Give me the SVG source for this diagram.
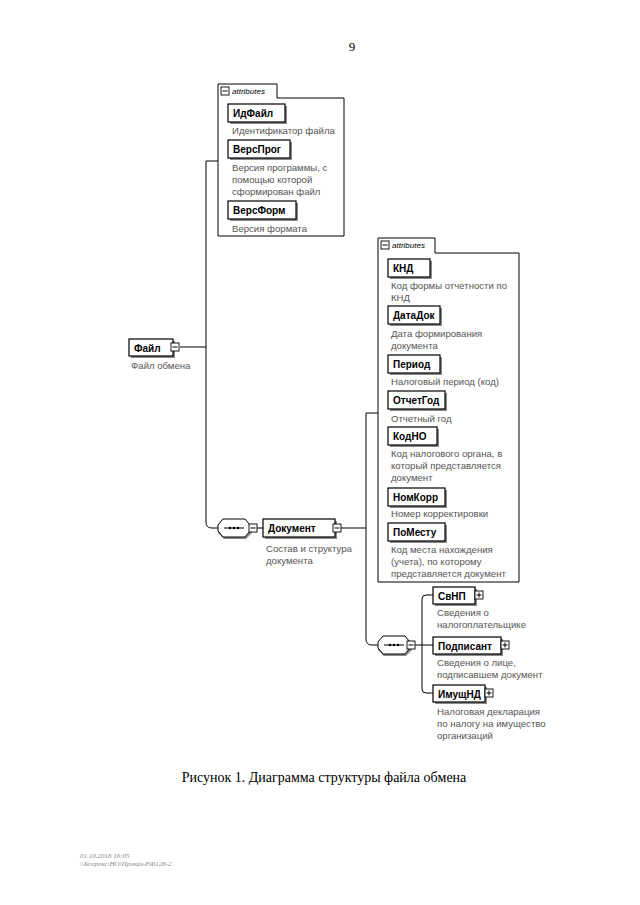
<svg xmlns="http://www.w3.org/2000/svg" width="640" height="905" viewBox="0 0 640 905">
<defs>
<style>
.bg{fill:#fff}
.ln{fill:none;stroke:#000;stroke-width:1}
.box{fill:#fff;stroke:#000;stroke-width:1.2}
.sh{fill:#8a8a8a}
.nm{font-family:"Liberation Sans",Arial,sans-serif;font-size:10px;font-weight:bold;fill:#000}
.ds{font-family:"Liberation Sans",Arial,sans-serif;font-size:9.6px;fill:#555}
.tab{font-family:"Liberation Sans",Arial,sans-serif;font-size:8px;font-style:italic;fill:#000}
.btn{fill:#fff;stroke:#000;stroke-width:0.9}
</style>
<g id="minus"><rect class="btn" x="-4" y="-4" width="8" height="8"/><path class="ln" d="M-2.5,0H2.5"/></g>
<g id="plus"><rect class="btn" x="-4" y="-4" width="8" height="8"/><path class="ln" d="M-2.5,0H2.5M0,-2.5V2.5"/></g>
<g id="seq"><path class="sh" d="M6,2H28L34,8V14L28,20H6L0,14V8Z"/><path fill="#fff" stroke="#000" stroke-width="1" d="M5,0H27L32,6V12L27,18H5L0,12V6Z"/><path class="ln" d="M6,9H26"/><circle cx="12" cy="9" r="1.2"/><circle cx="16" cy="9" r="1.2"/><circle cx="20" cy="9" r="1.2"/></g>
</defs>
<rect class="bg" width="640" height="905"/>
<text x="352" y="51" font-family="'Liberation Serif','Times New Roman',serif" font-size="13" text-anchor="middle" fill="#000">9</text>

<g id="connectors">
<path class="ln" d="M218,161H206V522Q206,528,212,528H218"/>
<path class="ln" d="M180,347H206"/>
<path class="ln" d="M256,528H263"/>
<path class="ln" d="M340,528H366"/>
<path class="ln" d="M378,413H366V639Q366,645,372,645H378"/>
<path class="ln" d="M414,645H422"/>
<path class="ln" d="M433,595H426Q422,595,422,599V689Q422,693,426,693H433"/>
<path class="ln" d="M422,645H433"/>
</g>

<g id="attrs1">
<path fill="#fff" stroke="#000" stroke-width="1" d="M218,236V84H277V98H344V236Z"/>
<rect class="btn" x="221" y="87" width="8" height="8"/><path class="ln" d="M222.5,91H227.5"/>
<text class="tab" x="232" y="94">attributes</text>
</g>
<g id="ИдФайл"><rect class="sh" x="230" y="106" width="57" height="18"/><rect class="box" x="228" y="104" width="57" height="18"/><text class="nm" x="233" y="117">ИдФайл</text><text class="ds" x="232" y="134">Идентификатор файла</text></g>
<g id="ВерсПрог"><rect class="sh" x="230" y="142" width="62" height="18"/><rect class="box" x="228" y="140" width="62" height="18"/><text class="nm" x="233" y="153">ВерсПрог</text><text class="ds" x="232" y="171">Версия программы, с</text><text class="ds" x="232" y="183">помощью которой</text><text class="ds" x="232" y="195">сформирован файл</text></g>
<g id="ВерсФорм"><rect class="sh" x="230" y="203" width="68" height="18"/><rect class="box" x="228" y="201" width="68" height="18"/><text class="nm" x="233" y="214">ВерсФорм</text><text class="ds" x="232" y="232">Версия формата</text></g>

<g id="Файл"><rect class="sh" x="131" y="341" width="44" height="17"/><rect class="box" x="129" y="339" width="44" height="17"/><text class="nm" x="134" y="352">Файл</text><use href="#minus" x="175" y="347"/><text class="ds" x="131" y="369">Файл обмена</text></g>

<g id="seq1"><use href="#seq" x="218" y="519"/><use href="#minus" x="253" y="528"/></g>

<g id="Документ"><rect class="sh" x="265" y="521" width="72" height="18"/><rect class="box" x="263" y="519" width="72" height="18"/><text class="nm" x="268" y="532">Документ</text><use href="#minus" x="337" y="528"/><text class="ds" x="266" y="552">Состав и структура</text><text class="ds" x="266" y="564">документа</text></g>

<g id="attrs2">
<path fill="#fff" stroke="#000" stroke-width="1" d="M378,582V238H435V253H519V582Z"/>
<rect class="btn" x="381" y="241" width="8" height="8"/><path class="ln" d="M382.5,245H387.5"/>
<text class="tab" x="392" y="248">attributes</text>
</g>
<g id="КНД"><rect class="sh" x="390" y="261" width="42" height="18"/><rect class="box" x="388" y="259" width="42" height="18"/><text class="nm" x="393" y="272">КНД</text><text class="ds" x="391" y="289">Код формы отчетности по</text><text class="ds" x="391" y="301">КНД</text></g>
<g id="ДатаДок"><rect class="sh" x="390" y="308" width="52" height="18"/><rect class="box" x="388" y="306" width="52" height="18"/><text class="nm" x="393" y="319">ДатаДок</text><text class="ds" x="391" y="337">Дата формирования</text><text class="ds" x="391" y="349">документа</text></g>
<g id="Период"><rect class="sh" x="390" y="357" width="52" height="18"/><rect class="box" x="388" y="355" width="52" height="18"/><text class="nm" x="393" y="368">Период</text><text class="ds" x="391" y="385">Налоговый период (код)</text></g>
<g id="ОтчетГод"><rect class="sh" x="390" y="393" width="57" height="18"/><rect class="box" x="388" y="391" width="57" height="18"/><text class="nm" x="393" y="404">ОтчетГод</text><text class="ds" x="391" y="422">Отчетный год</text></g>
<g id="КодНО"><rect class="sh" x="390" y="429" width="49" height="18"/><rect class="box" x="388" y="427" width="49" height="18"/><text class="nm" x="393" y="440">КодНО</text><text class="ds" x="391" y="457">Код налогового органа, в</text><text class="ds" x="391" y="469">который представляется</text><text class="ds" x="391" y="481">документ</text></g>
<g id="НомКорр"><rect class="sh" x="390" y="490" width="57" height="18"/><rect class="box" x="388" y="488" width="57" height="18"/><text class="nm" x="393" y="501">НомКорр</text><text class="ds" x="391" y="517">Номер корректировки</text></g>
<g id="ПоМесту"><rect class="sh" x="390" y="525" width="57" height="18"/><rect class="box" x="388" y="523" width="57" height="18"/><text class="nm" x="393" y="536">ПоМесту</text><text class="ds" x="391" y="553">Код места нахождения</text><text class="ds" x="391" y="565">(учета), по которому</text><text class="ds" x="391" y="577">представляется документ</text></g>

<g id="seq2"><use href="#seq" x="378" y="636"/><use href="#minus" x="411" y="645"/></g>

<g id="СвНП"><rect class="sh" x="435" y="589" width="42" height="17"/><rect class="box" x="433" y="587" width="42" height="17"/><text class="nm" x="438" y="600">СвНП</text><use href="#plus" x="479" y="595"/><text class="ds" x="437" y="616">Сведения о</text><text class="ds" x="437" y="628">налогоплательщике</text></g>
<g id="Подписант"><rect class="sh" x="435" y="639" width="68" height="17"/><rect class="box" x="433" y="637" width="68" height="17"/><text class="nm" x="438" y="650">Подписант</text><use href="#plus" x="505" y="645"/><text class="ds" x="437" y="666">Сведения о лице,</text><text class="ds" x="437" y="678">подписавшем документ</text></g>
<g id="ИмущНД"><rect class="sh" x="435" y="687" width="52" height="17"/><rect class="box" x="433" y="685" width="52" height="17"/><text class="nm" x="438" y="698">ИмущНД</text><use href="#plus" x="489" y="693"/><text class="ds" x="437" y="715">Налоговая декларация</text><text class="ds" x="437" y="727">по налогу на имущество</text><text class="ds" x="437" y="739">организаций</text></g>

<text x="324" y="782" font-family="'Liberation Serif','Times New Roman',serif" font-size="14" text-anchor="middle" fill="#000">Рисунок 1. Диаграмма структуры файла обмена</text>
<text x="80" y="858" font-family="'Liberation Serif','Times New Roman',serif" font-size="7" font-style="italic" fill="#888">01.10.2018 16:05</text>
<text x="80" y="866" font-family="'Liberation Serif','Times New Roman',serif" font-size="7" font-style="italic" fill="#888">\\Ксерокс\НО\Приказ-ЕФ128-2</text>
</svg>
